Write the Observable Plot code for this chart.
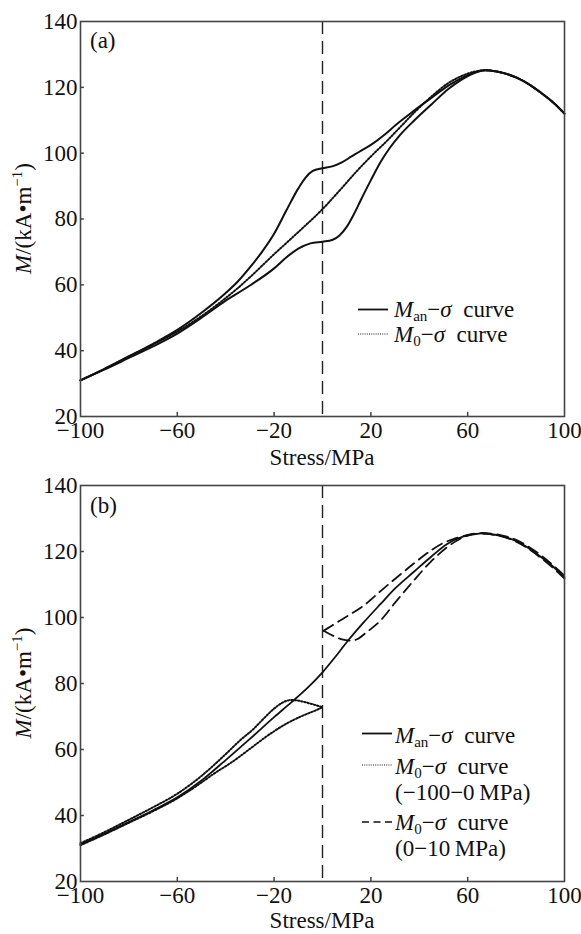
<!DOCTYPE html>
<html>
<head>
<meta charset="utf-8">
<script src="https://cdn.jsdelivr.net/npm/d3@7"></script>
<script src="https://cdn.jsdelivr.net/npm/@observablehq/plot@0.6"></script>
<style>
  body { margin: 0; background: #fff; }
  #chart { width: 581px; }
  #chart svg { display: block; }
  #chart svg text { font-family: "Liberation Serif", "Times New Roman", serif; }
</style>
</head>
<body>
<div id="chart"></div>
<script>
// ---------- ticks ----------
const xTicks = [-100, -60, -20, 20, 60, 100];
const yTicks = [20, 40, 60, 80, 100, 120, 140];
const innerXTicks = [-60, -20, 20, 60];
const innerYTicks = [40, 60, 80, 100, 120];
const splitStress = [0];

// ---------- panel (a) ----------
// M_an - sigma curve, upper branch  [stress MPa, M kA/m]
const manUpperA = [[-100,31],[-90,34.5],[-80,38.3],[-70,42.1],[-60,46.3],[-50,51.5],[-40,57.5],[-35,61],[-30,65.3],[-25,70],[-20,75.5],[-15,82.5],[-10,89.3],[-7,92.6],[-4,94.6],[0,95.4],[4,96],[8,97.2],[12,99],[16,100.8],[20,102.5],[26,105.8],[30,108.4],[38,113],[45,116.8],[52,120.5],[58,123],[63,124.6],[67,125.2],[72,124.8],[80,123],[86,120.6],[90,118.5],[95,115.6],[100,112]];
// M_an - sigma curve, lower branch
const manLowerA = [[-100,31],[-90,34.3],[-80,37.8],[-70,41.3],[-60,45.2],[-50,50],[-40,55.2],[-30,59.8],[-20,65],[-15,68.3],[-10,71],[-5,72.6],[0,73.1],[4,73.6],[7,75],[10,77.6],[13,81.5],[16,86],[20,91.8],[24,97.3],[28,101.8],[32,105.5],[38,110],[45,114.8],[52,119.5],[58,122.6],[63,124.4],[67,125.2],[72,124.8],[80,123],[86,120.6],[90,118.5],[95,115.6],[100,112]];
// M0 - sigma curve
const m0A = [[-100,31],[-90,34.5],[-80,38.2],[-70,41.9],[-60,45.8],[-50,50.5],[-40,56],[-35,59],[-30,62.3],[-20,69.3],[-13,74],[-9,76.7],[0,83],[7,88.6],[14,94.4],[20,99],[27,104],[33,108.6],[38,112.4],[45,117.2],[52,121.3],[58,123.6],[63,124.8],[67,125.2],[72,124.8],[80,123],[86,120.6],[90,118.5],[95,115.6],[100,112]];

// ---------- panel (b) ----------
// M_an - sigma curve
const manB = [[-100,31.2],[-90,34.5],[-80,38],[-70,41.6],[-60,45.5],[-50,50.6],[-40,56.8],[-30,63.2],[-20,69.8],[-13,74.2],[-6,78.8],[0,83.4],[5,87.8],[10,92.5],[17,98.5],[24,104.1],[30,108.8],[38,114],[45,118.5],[51.5,122.3],[58,124.5],[66,125.5],[72,125],[80,123.2],[90,118.5],[95,115.6],[100,112.2]];
// M0 - sigma curve (-100 to 0 MPa): upper and lower branch
const m0UpperB = [[-100,31.6],[-90,35],[-80,38.7],[-70,42.5],[-60,46.6],[-50,52],[-40,58.6],[-34,62.8],[-28.4,66.3],[-24,69.6],[-20,72.4],[-16,74.4],[-13,75],[-10,74.8],[-5,73.9],[0,72.8]];
const m0LowerB = [[-100,31],[-90,34.3],[-80,37.8],[-70,41.3],[-60,45.2],[-50,50],[-45,52.6],[-36.6,56.6],[-30,60.2],[-21.5,64.8],[-15,67.8],[-7.7,70.4],[-3,71.8],[0,72.8]];
// M0 - sigma curve (0 to 10 MPa): two branches from the 0 MPa line
const m0DashUpperB = [[0.5,96],[4,97.6],[8,99.4],[12,101.2],[17,103.6],[24,108],[30.8,112.2],[38,116.5],[44.6,120.2],[50,122.6],[54.3,123.8],[60,125],[66,125.6],[72,125.2],[80,123.5],[90,119],[95,116],[100,112.7]];
const m0DashLowerB = [[0.5,96],[4,94.6],[8,93.4],[12,93],[14.3,93.4],[18,95.4],[24,99.1],[30,104.5],[37.7,111.2],[44.6,116.8],[51.5,121.3],[56,123.5],[60,124.8],[66,125.4],[72,124.9],[80,123],[90,118.2],[95,115.2],[100,111.8]];

const FONT = "Liberation Serif";
const INK = "#111";
const AXIS = "#444";
const DOTS = "1.4,1.9";

function makePanel({height, marginTop, marginBottom, curves}) {
  return Plot.plot({
    width: 581,
    height,
    marginLeft: 80,
    marginRight: 17,
    marginTop,
    marginBottom,
    style: {fontFamily: FONT, fontSize: "23px", background: "#fff", color: INK},
    x: {domain: [-100, 100], ticks: xTicks, tickSize: 0, tickPadding: 5, label: null},
    y: {domain: [20, 140], ticks: yTicks, tickSize: 0, tickPadding: 3, label: null},
    marks: [
      Plot.ruleX(innerXTicks, {y1: 20, y2: 21.25, stroke: AXIS, strokeWidth: 1.5}),
      Plot.ruleY(innerYTicks, {x1: -100, x2: -98.4, stroke: AXIS, strokeWidth: 1.5}),
      Plot.ruleX(splitStress, {stroke: "#222", strokeWidth: 1.4, strokeDasharray: "13,7"}),
      ...curves.map(c => Plot.line(c.data, {
        x: d => d[0], y: d => d[1], curve: "monotone-x",
        stroke: c.stroke || INK, strokeWidth: c.width, strokeDasharray: c.dash
      })),
      Plot.frame({stroke: AXIS, strokeWidth: 1.6})
    ]
  });
}

function addText(sel, x, y, segs, attrs = {}) {
  const t = sel.append("text").attr("x", x).attr("y", y)
    .attr("font-family", FONT).attr("font-size", 23).attr("fill", INK)
    .attr("text-anchor", "start");
  for (const [k, v] of Object.entries(attrs)) t.attr(k, v);
  let shift = 0;
  for (const s of segs) {
    const ts = t.append("tspan").text(s.t);
    let target = 0;
    if (s.sub) { ts.attr("font-size", 15); target = 4; }
    if (s.sup) { ts.attr("font-size", 15); target = -9; }
    if (target !== shift) { ts.attr("dy", target - shift); shift = target; }
    if (s.i) ts.attr("font-style", "italic");
  }
  return t;
}

function addLegendLine(sel, x1, x2, y, dash, stroke, width) {
  const l = sel.append("line").attr("x1", x1).attr("x2", x2).attr("y1", y).attr("y2", y)
    .attr("stroke", stroke).attr("stroke-width", width);
  if (dash) l.attr("stroke-dasharray", dash);
}

const yLabel = [{t: "M", i: true}, {t: "/(kA•m"}, {t: "−1", sup: true}, {t: ")"}];
const curveWord = "\u00a0\u00a0curve";

// ---------- build panel (a) ----------
const svgA = makePanel({
  height: 470, marginTop: 21, marginBottom: 54,
  curves: [
    {data: manUpperA, width: 2},
    {data: manLowerA, width: 2},
    {data: m0A, width: 2, dash: DOTS, stroke: "#111"}
  ]
});
const a = d3.select(svgA);
addText(a, 90, 48, [{t: "(a)"}]);
addText(a, 322, 465, [{t: "Stress/MPa"}], {"text-anchor": "middle"});
addText(a, 0, 0, yLabel, {"text-anchor": "middle", transform: "translate(31,218.5) rotate(-90)"});
addLegendLine(a, 358, 388, 309.5, null, INK, 1.8);
addText(a, 394, 317, [{t: "M", i: true}, {t: "an", sub: true}, {t: "−"}, {t: "σ", i: true}, {t: curveWord}]);
addLegendLine(a, 358, 388, 334, "1,1.2", "#666", 1.3);
addText(a, 394, 342, [{t: "M", i: true}, {t: "0", sub: true}, {t: "−"}, {t: "σ", i: true}, {t: curveWord}]);

// ---------- build panel (b) ----------
const svgB = makePanel({
  height: 464, marginTop: 15, marginBottom: 53,
  curves: [
    {data: manB, width: 1.8},
    {data: m0UpperB, width: 2, dash: DOTS, stroke: "#111"},
    {data: m0LowerB, width: 2, dash: DOTS, stroke: "#111"},
    {data: m0DashUpperB, width: 1.8, dash: "11,6"},
    {data: m0DashLowerB, width: 1.8, dash: "11,6"}
  ]
});
const b = d3.select(svgB);
addText(b, 90, 43, [{t: "(b)"}]);
addText(b, 322, 458, [{t: "Stress/MPa"}], {"text-anchor": "middle"});
addText(b, 0, 0, yLabel, {"text-anchor": "middle", transform: "translate(31,213) rotate(-90)"});
addLegendLine(b, 362, 392, 263.5, null, INK, 1.8);
addText(b, 395, 273, [{t: "M", i: true}, {t: "an", sub: true}, {t: "−"}, {t: "σ", i: true}, {t: curveWord}]);
addLegendLine(b, 362, 392, 295, "1,1.2", "#666", 1.3);
addText(b, 395, 304, [{t: "M", i: true}, {t: "0", sub: true}, {t: "−"}, {t: "σ", i: true}, {t: curveWord}]);
addText(b, 395, 330, [{t: "(−100−0\u2009MPa)"}]);
addLegendLine(b, 362, 392, 352, "7,4.5", INK, 1.5);
addText(b, 395, 360, [{t: "M", i: true}, {t: "0", sub: true}, {t: "−"}, {t: "σ", i: true}, {t: curveWord}]);
addText(b, 395, 386, [{t: "(0−10\u2009MPa)"}]);

document.getElementById("chart").append(svgA, svgB);
</script>
</body>
</html>
